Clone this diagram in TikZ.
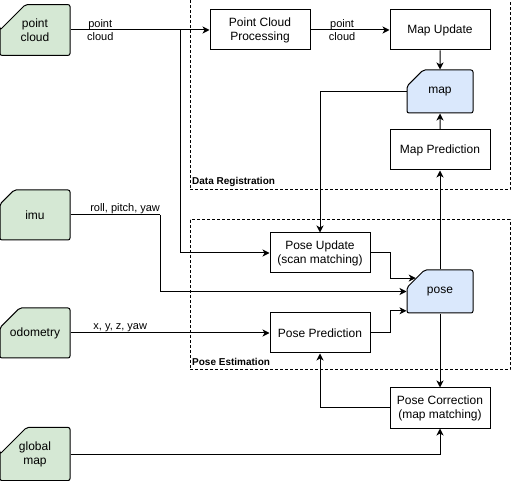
\documentclass[tikz,border=0pt]{standalone}
\usepackage{fontspec}
\setmainfont{Liberation Sans}
\usetikzlibrary{arrows.meta,shapes.misc}

\definecolor{vertclair}{HTML}{D5E8D4}
\definecolor{bleuclair}{HTML}{DAE8FC}

\tikzset{
  boite/.style={draw, line width=1pt, minimum width=100pt, minimum height=40pt,
    inner sep=0pt, align=center, font=\fontsize{12}{14}\selectfont},
  carte/.style={chamfered rectangle, chamfered rectangle corners=north west,
    chamfered rectangle sep=14pt, draw, line width=1pt, rounded corners=2pt,
    minimum width=70pt, minimum height=50pt, inner sep=0pt, align=center,
    font=\fontsize{12}{14}\selectfont},
  entree/.style={carte, fill=vertclair},
  donnee/.style={carte, fill=bleuclair, minimum width=66pt, minimum height=43pt},
  fleche/.style={line width=1pt, -{Stealth[length=7pt,width=7pt,inset=2pt]}},
  etiq/.style={font=\fontsize{11}{13}\selectfont, align=center, inner sep=1pt},
  groupe/.style={draw, line width=1pt, dash pattern=on 3pt off 2pt},
  titre/.style={anchor=west, inner sep=0pt, font=\fontsize{10}{12}\selectfont\bfseries}
}

\begin{document}
\begin{tikzpicture}[x=1pt, y=-1pt]
    \useasboundingbox (0,0) rectangle (512,481);

    % Groupes
    \draw[groupe] (190,0) rectangle (510,190);
    \node[titre] (dreg) at (192,181.5) {Data Registration};
    \draw[groupe] (190,220) rectangle (510,370);
    \node[titre] (pest) at (192,361.5) {Pose Estimation};

    % Entrées
    \node[entree] (pc) at (35,30) {point\\cloud};
    \node[entree] (imu) at (35,215) {imu};
    \node[entree] (odo) at (35,333) {odometry};
    \node[entree] (gmap) at (35,454) {global\\map};

    % Blocs
    \node[boite] (pcp) at (260,30) {Point Cloud\\Processing};
    \node[boite] (mu) at (440,30) {Map Update};
    \node[donnee] (map) at (440,91.5) {map};
    \node[boite] (mp) at (440,150) {Map Prediction};
    \node[boite] (pu) at (320,253) {Pose Update\\(scan matching)};
    \node[donnee] (pose) at (440,291.5) {pose};
    \node[boite] (pp) at (320,333) {Pose Prediction};
    \node[boite] (pcor) at (440,408) {Pose Correction\\(map matching)};

    % Flèches
    \coordinate (split) at (180,30);
    \coordinate (imubend) at (160,215);
    \draw[fleche] (pc.east) -- node[etiq, pos=0.214] {point\\cloud} (pcp.west);
    \draw[fleche] (split) |- (pu.west);
    \draw[fleche] (pcp.east) -- node[etiq, pos=0.4] {point\\cloud} (mu.west);
    \draw[fleche] (mu) -- (map);
    \draw[fleche] (map.west) -| (pu.north);
    \draw[fleche] (mp) -- (map);
    \draw[fleche] (pose) -- (mp);
    \draw[line width=1pt] (imu.east) -- node[etiq, above, pos=0.61] {roll, pitch, yaw} (imubend);
    \draw[fleche] (imubend) |- (pose.west);
    \draw[fleche] (odo.east) -- node[etiq, above, pos=0.25] {x, y, z, yaw} (pp.west);
    \draw[fleche] (pu.east) -- ++(20,0) |- (pose.151);
    \draw[fleche] (pp.east) -- ++(20,0) |- (pose.210);
    \draw[fleche] (pose) -- (pcor);
    \draw[fleche] (pcor.west) -| (pp.south);
    \draw[fleche] (gmap.east) -| (pcor.south);
\end{tikzpicture}
\end{document}
